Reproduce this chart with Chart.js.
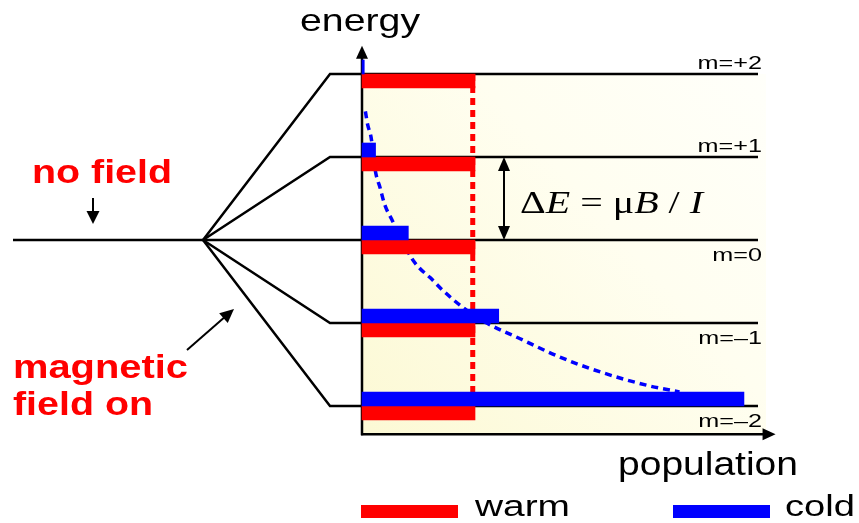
<!DOCTYPE html>
<html>
<head>
<meta charset="utf-8">
<script src="https://cdn.jsdelivr.net/npm/chart.js@4.4.0/dist/chart.umd.min.js"></script>
<style>
  html, body { margin: 0; padding: 0; background: #fff; }
  #wrap { width: 859px; height: 523px; }
</style>
</head>
<body>
<div id="wrap"><canvas id="chart" width="859" height="523"></canvas></div>
<script>
// energy levels (magnetic sub-levels m) and their labels
const levels = [2, 1, 0, -1, -2];
const levelLabels = ['m=+2', 'm=+1', 'm=0', 'm=\u20131', 'm=\u20132'];

// population of each level: warm gas is flat, cold gas piles up at the bottom
const warmPop = [1, 1, 1, 1, 1];
const coldPop = [0.02, 0.12, 0.41, 1.21, 3.38];

// dashed guide curves (energy, population)
const warmCurveE = [2, -1.84];
const warmCurveN = [0.98, 0.98];
const coldCurveE = [1.55, 1.39, 1.24, 0.82, 0.63, 0.43, 0.23, -0.22, -0.34, -0.45, -0.60, -0.81, -0.99, -1.19, -1.41, -1.59, -1.76, -1.83];
const coldCurveN = [0.03, 0.05, 0.08, 0.12, 0.16, 0.20, 0.27, 0.44, 0.51, 0.60, 0.71, 0.89, 1.09, 1.40, 1.75, 2.11, 2.55, 2.81];

// legend order, left to right
const legendOrder = ['warm', 'cold'];

// layout: the chart area fills the canvas, population 0 / m=0 sit at the origin below
const W = 859, H = 523;
const ORIGIN_X = 362, PX_PER_N = 113;
const ORIGIN_Y = 240, PX_PER_M = 83;
const nAt = px => (px - ORIGIN_X) / PX_PER_N;

const fanN = nAt(203);        // where the levels split
const levelStartN = nAt(330);
const levelEndN = nAt(758);
const noFieldN = nAt(13);
const axisTopM = 2.34, axisBottomM = -2.34, axisRightN = 3.66;

const RED = '#ff0000', BLUE = '#0000ff';

const levelSets = levels.map(m => ({
	type: 'line',
	indexAxis: 'x',
	data: m === 0
		? [{ x: noFieldN, y: 0 }, { x: levelEndN, y: 0 }]
		: [{ x: fanN, y: 0 }, { x: levelStartN, y: m }, { x: levelEndN, y: m }],
	borderColor: '#000',
	borderWidth: 2.5,
	pointRadius: 0,
	tension: 0,
	order: 5
}));

function fitText(ctx, str, x, y, font, width, color) {
	ctx.save();
	ctx.font = font;
	ctx.fillStyle = color || '#000';
	ctx.textBaseline = 'alphabetic';
	const w = ctx.measureText(str).width;
	ctx.translate(x, y);
	ctx.scale(width / w, 1);
	ctx.fillText(str, 0, 0);
	ctx.restore();
}

function arrowHead(ctx, x1, y1, x2, y2, len, wid) {
	const a = Math.atan2(y2 - y1, x2 - x1);
	ctx.beginPath();
	ctx.moveTo(x2, y2);
	ctx.lineTo(x2 - len * Math.cos(a) + wid / 2 * Math.sin(a), y2 - len * Math.sin(a) - wid / 2 * Math.cos(a));
	ctx.lineTo(x2 - len * Math.cos(a) - wid / 2 * Math.sin(a), y2 - len * Math.sin(a) + wid / 2 * Math.cos(a));
	ctx.closePath();
	ctx.fill();
}

function arrow(ctx, x1, y1, x2, y2, len, wid, lw) {
	const a = Math.atan2(y2 - y1, x2 - x1);
	ctx.beginPath();
	ctx.moveTo(x1, y1);
	ctx.lineTo(x2 - (len - 1) * Math.cos(a), y2 - (len - 1) * Math.sin(a));
	ctx.lineWidth = lw;
	ctx.stroke();
	arrowHead(ctx, x1, y1, x2, y2, len, wid);
}

// yellow panel and the two axes, under the data
const backdrop = {
	id: 'backdrop',
	beforeDatasetsDraw(chart) {
		const { ctx, scales: { x, y } } = chart;
		const l = x.getPixelForValue(0), r = x.getPixelForValue(levelEndN) + 8;
		const t = y.getPixelForValue(levels[0]), b = y.getPixelForValue(axisBottomM);
		ctx.save();
		const g = ctx.createLinearGradient(l, b, r, t);
		g.addColorStop(0, '#fcf9d4');
		g.addColorStop(0.6, '#fffef0');
		g.addColorStop(1, '#fffffa');
		ctx.fillStyle = g;
		ctx.fillRect(l, t, r - l, b - t);

		ctx.strokeStyle = '#000';
		ctx.fillStyle = '#000';
		arrow(ctx, l, b + 1, l, y.getPixelForValue(axisTopM), 13, 12, 2.5);
		arrow(ctx, l - 1, b, x.getPixelForValue(axisRightN), b, 13, 12, 2.5);
		ctx.restore();
	}
};

// texts, annotation arrows and the legend, on top
const annotations = {
	id: 'annotations',
	afterDatasetsDraw(chart) {
		const { ctx, scales: { x, y } } = chart;
		ctx.save();
		ctx.strokeStyle = '#000';
		ctx.fillStyle = '#000';

		fitText(ctx, 'energy', 300, 31, '32px "Liberation Sans", Arial', 120);
		fitText(ctx, 'population', 618, 475, '34px "Liberation Sans", Arial', 180);

		levels.forEach((m, i) => {
			const py = y.getPixelForValue(m) + (m > 0 ? -5 : 21);
			ctx.save();
			ctx.font = '18px "Liberation Sans", Arial';
			const w = ctx.measureText(levelLabels[i]).width * 1.4;
			ctx.restore();
			fitText(ctx, levelLabels[i], 762 - w, py, '18px "Liberation Sans", Arial', w);
		});

		// splitting arrow and formula
		const ax = 504, y1 = y.getPixelForValue(1), y0 = y.getPixelForValue(0);
		ctx.lineWidth = 2;
		ctx.beginPath();
		ctx.moveTo(ax, y1 + 12);
		ctx.lineTo(ax, y0 - 12);
		ctx.stroke();
		arrowHead(ctx, ax, y0, ax, y1, 14, 12);
		arrowHead(ctx, ax, y1, ax, y0, 14, 12);

		const parts = [['\u0394', ''], ['E', 'italic '], [' = ', ''], ['\u03bc', ''], ['B', 'italic '], [' / ', ''], ['I', 'italic ']];
		const size = '31px "Liberation Serif", "Times New Roman", serif';
		let total = 0;
		parts.forEach(p => { ctx.font = p[1] + size; total += ctx.measureText(p[0]).width; });
		const sx = 183 / total;
		let cx = 520;
		parts.forEach(p => {
			ctx.font = p[1] + size;
			const w = ctx.measureText(p[0]).width;
			fitText(ctx, p[0], cx, 213, p[1] + size, w * sx);
			cx += w * sx;
		});

		// left-hand labels
		const bold = 'bold 33px "Liberation Sans", Arial';
		fitText(ctx, 'no field', 32, 183, bold, 140, RED);
		fitText(ctx, 'magnetic', 13, 378, bold, 175, RED);
		fitText(ctx, 'field on', 13, 415, bold, 140, RED);
		arrow(ctx, 93, 198, 93, 224, 13, 13, 2);
		arrow(ctx, 187, 350, 234, 309, 14, 13, 2);

		// legend, from the bar datasets
		const spots = [{ box: 361, text: 475, tw: 95 }, { box: 673, text: 785, tw: 70 }];
		legendOrder.forEach((name, i) => {
			const d = chart.data.datasets.find(ds => ds.type === 'bar' && ds.label === name);
			const s = spots[i];
			ctx.fillStyle = d.backgroundColor;
			ctx.fillRect(s.box, 505, 97, 13);
			fitText(ctx, d.label, s.text, 516, '30px "Liberation Sans", Arial', s.tw);
		});
		ctx.restore();
	}
};

new Chart(document.getElementById('chart'), {
	type: 'bar',
	data: {
		datasets: [
			{
				type: 'bar',
				label: 'cold',
				indexAxis: 'y',
				data: levels.map((m, i) => ({ y: m, x: coldPop[i] })),
				backgroundColor: BLUE,
				barThickness: 14,
				borderWidth: 0,
				order: 1
			},
			{
				type: 'bar',
				label: 'warm',
				indexAxis: 'y',
				data: levels.map((m, i) => ({ y: m, x: warmPop[i] })),
				backgroundColor: RED,
				barThickness: 14,
				borderWidth: 0,
				order: 1
			},
			{
				type: 'line',
				indexAxis: 'x',
				data: coldCurveE.map((e, i) => ({ x: coldCurveN[i], y: e })),
				borderColor: BLUE,
				borderWidth: 3.5,
				borderDash: [7, 5],
				pointRadius: 0,
				cubicInterpolationMode: 'monotone',
				order: 3
			},
			{
				type: 'line',
				indexAxis: 'x',
				data: warmCurveE.map((e, i) => ({ x: warmCurveN[i], y: e })),
				borderColor: RED,
				borderWidth: 5,
				borderDash: [7, 5],
				pointRadius: 0,
				order: 2
			},
			...levelSets
		]
	},
	options: {
		indexAxis: 'y',
		responsive: false,
		animation: false,
		events: [],
		layout: { padding: 0 },
		scales: {
			x: {
				type: 'linear',
				display: false,
				offset: false,
				min: -ORIGIN_X / PX_PER_N,
				max: (W - ORIGIN_X) / PX_PER_N
			},
			y: {
				type: 'linear',
				display: false,
				offset: false,
				min: -(H - ORIGIN_Y) / PX_PER_M,
				max: ORIGIN_Y / PX_PER_M
			}
		},
		plugins: {
			legend: { display: false },
			tooltip: { enabled: false }
		}
	},
	plugins: [backdrop, annotations]
});
</script>
</body>
</html>
